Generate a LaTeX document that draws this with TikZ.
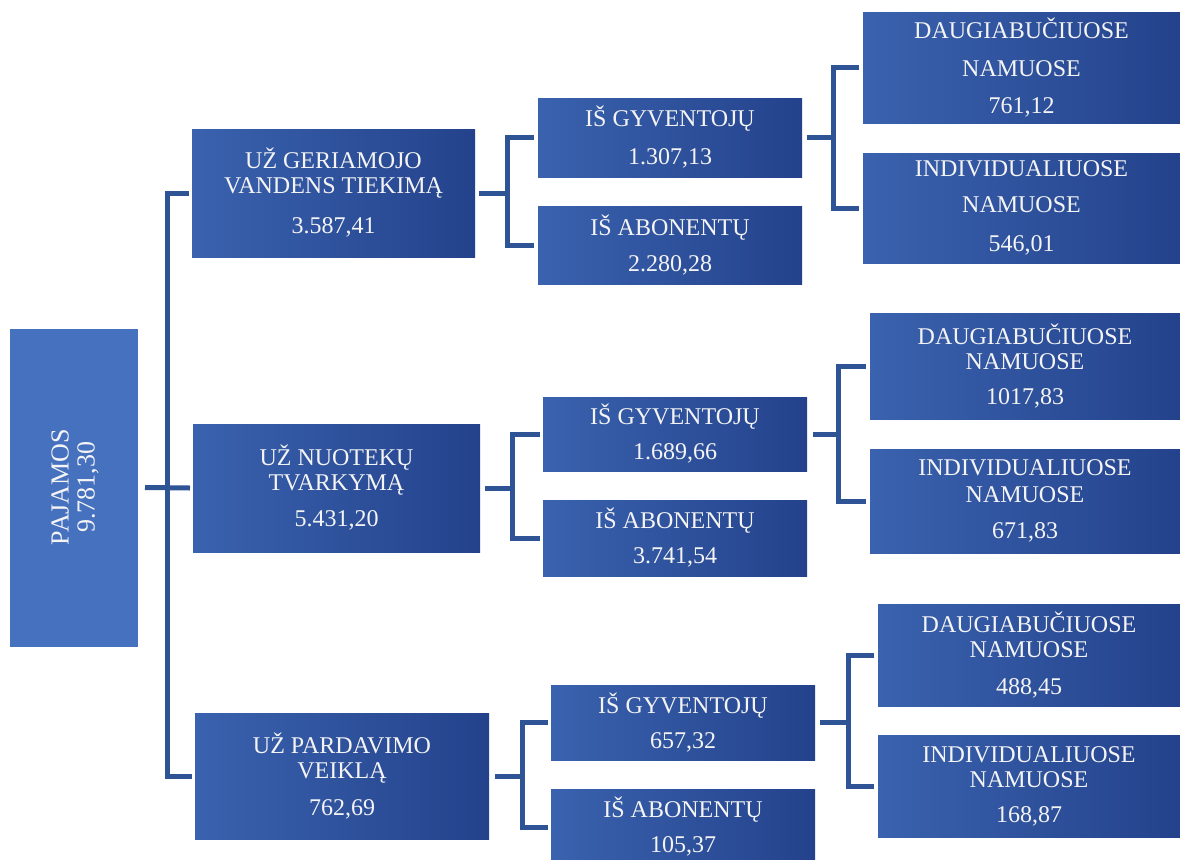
\documentclass[tikz,border=0pt]{standalone}
\usepackage{fontspec}
\setmainfont{Liberation Serif}
\definecolor{boxL}{HTML}{3A62AE}
\definecolor{boxR}{HTML}{24428C}
\definecolor{rootC}{HTML}{4671BF}
\definecolor{lineC}{HTML}{2E5496}
\definecolor{txtC}{HTML}{F4F4F4}
\tikzset{
  box/.style={left color=boxL, right color=boxR, draw=none, text=txtC, inner sep=0pt, outer sep=0pt,
    align=center, font=\fontsize{24}{25}\selectfont},
  rootbox/.style={fill=rootC, draw=none, inner sep=0pt, outer sep=0pt},
  roottext/.style={rotate=90, text=txtC, align=center, font=\fontsize{26}{26}\selectfont},
  conn/.style={draw=lineC, line width=5pt, line join=miter}
}
\begin{document}
\begin{tikzpicture}[x=1pt,y=-1pt]
\useasboundingbox (0,0) rectangle (1180,859);
% root
\node[rootbox, minimum width=128pt, minimum height=318pt] (P) at (74,487.5) {};
\node[roottext] (Pt) at (75,487) {PAJAMOS\\9.781,30};
% level 1
\node[box, minimum width=283pt, minimum height=128pt] (A) at (333.5,193) {UŽ GERIAMOJO\\VANDENS TIEKIMĄ\\[15pt]3.587,41};
\node[box, minimum width=287pt, minimum height=128pt] (B) at (336.5,488) {UŽ NUOTEKŲ\\TVARKYMĄ\\[11pt]5.431,20};
\node[box, minimum width=294pt, minimum height=126pt] (C) at (342,776) {UŽ PARDAVIMO\\VEIKLĄ\\[12pt]762,69};
% level 2
\node[box, minimum width=264pt, minimum height=79pt] (A1) at (670,137.5) {IŠ GYVENTOJŲ\\[13pt]1.307,13};
\node[box, minimum width=264pt, minimum height=78pt] (A2) at (670,245) {IŠ ABONENTŲ\\[11pt]2.280,28};
\node[box, minimum width=264pt, minimum height=74pt] (B1) at (675,434) {IŠ GYVENTOJŲ\\[10pt]1.689,66};
\node[box, minimum width=264pt, minimum height=76pt] (B2) at (675,538) {IŠ ABONENTŲ\\[10pt]3.741,54};
\node[box, minimum width=264pt, minimum height=75pt] (C1) at (683,722.5) {IŠ GYVENTOJŲ\\[10pt]657,32};
\node[box, minimum width=264pt, minimum height=76pt] (C2) at (683,827) {IŠ ABONENTŲ\\[10pt]105,37};
% level 3
\node[box, minimum width=317pt, minimum height=110pt] (A1a) at (1021.5,68) {DAUGIABUČIUOSE\\[13pt]NAMUOSE\\[12pt]761,12};
\node[box, minimum width=317pt, minimum height=110pt] (A1b) at (1021.5,208) {INDIVIDUALIUOSE\\[11pt]NAMUOSE\\[14pt]546,01};
\node[box, minimum width=310pt, minimum height=106pt] (B1a) at (1025,366) {DAUGIABUČIUOSE\\NAMUOSE\\[10pt]1017,83};
\node[box, minimum width=310pt, minimum height=104pt] (B1b) at (1025,501) {INDIVIDUALIUOSE\\[2pt]NAMUOSE\\[11pt]671,83};
\node[box, minimum width=302pt, minimum height=102pt] (C1a) at (1029,655) {DAUGIABUČIUOSE\\NAMUOSE\\[12pt]488,45};
\node[box, minimum width=302pt, minimum height=102pt] (C1b) at (1029,786) {INDIVIDUALIUOSE\\NAMUOSE\\[10pt]168,87};
% connectors: root
\coordinate (j0) at (167,488);
\draw[conn] ([xshift=7]P.east) -- ([xshift=-3]B.west);
\draw[conn] ([xshift=-3]A.west) -| (j0) |- ([xshift=-3]C.west);
% group A
\coordinate (ja) at (507,193);
\draw[conn] ([xshift=4]A.east) -- (ja);
\draw[conn] ([xshift=-4]A1.west) -| (ja) |- ([xshift=-4]A2.west);
\coordinate (jaa) at (833,137.5);
\draw[conn] ([xshift=5]A1.east) -- (jaa);
\draw[conn] ([xshift=-4]A1a.west) -| (jaa) |- ([xshift=-4]A1b.west);
% group B
\coordinate (jb) at (512,488);
\draw[conn] ([xshift=5]B.east) -- (jb);
\draw[conn] ([xshift=-3]B1.west) -| (jb) |- ([xshift=-3]B2.west);
\coordinate (jbb) at (838,434);
\draw[conn] ([xshift=6]B1.east) -- (jbb);
\draw[conn] ([xshift=-4]B1a.west) -| (jbb) |- ([xshift=-4]B1b.west);
% group C
\coordinate (jc) at (522,776);
\draw[conn] ([xshift=6]C.east) -- (jc);
\draw[conn] ([xshift=-3]C1.west) -| (jc) |- ([xshift=-3]C2.west);
\coordinate (jcc) at (848,722.5);
\draw[conn] ([xshift=5]C1.east) -- (jcc);
\draw[conn] ([xshift=-4]C1a.west) -| (jcc) |- ([xshift=-4]C1b.west);
\end{tikzpicture}
\end{document}
